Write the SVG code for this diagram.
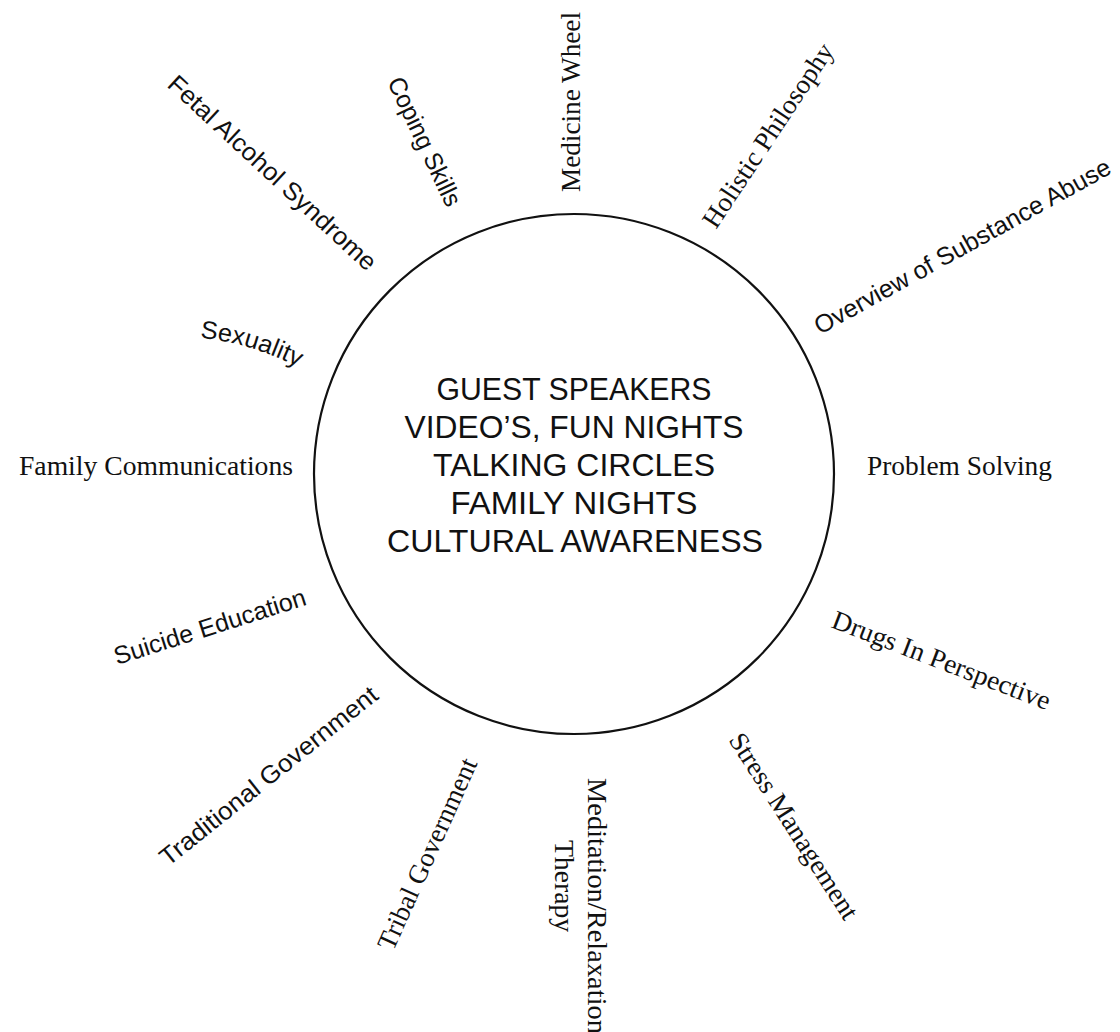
<svg xmlns="http://www.w3.org/2000/svg" width="1120" height="1032" viewBox="0 0 1120 1032">
<style>
.bg{fill:#ffffff}
.ring{fill:none;stroke:#111;stroke-width:2.2}
.serif{font-family:"Liberation Serif","Times New Roman",serif;font-size:27px;fill:#111}
.sans{font-family:"Liberation Sans",Arial,sans-serif;font-size:25px;fill:#111}
.center{font-family:"Liberation Sans",Arial,sans-serif;font-size:32px;fill:#111;text-anchor:middle}
</style>
<defs>
<path id="p-sex" d="M200,338 Q248,342 298,367"/>
</defs>
<rect class="bg" x="0" y="0" width="1120" height="1032"/>
<g id="hub">
<circle class="ring" cx="574" cy="474" r="260"/>
<text class="center" x="574" y="400" textLength="275" lengthAdjust="spacingAndGlyphs">GUEST SPEAKERS</text>
<text class="center" x="574" y="438" textLength="339" lengthAdjust="spacingAndGlyphs">VIDEO’S, FUN NIGHTS</text>
<text class="center" x="574" y="476" textLength="282" lengthAdjust="spacingAndGlyphs">TALKING CIRCLES</text>
<text class="center" x="574" y="514" textLength="247" lengthAdjust="spacingAndGlyphs">FAMILY NIGHTS</text>
<text class="center" x="575" y="552" textLength="376" lengthAdjust="spacingAndGlyphs">CULTURAL AWARENESS</text>
</g>
<g id="medicine-wheel"><text class="serif" transform="translate(580,192) rotate(-90)" textLength="180" lengthAdjust="spacingAndGlyphs">Medicine Wheel</text></g>
<g id="coping-skills"><text class="sans" transform="translate(387,82) rotate(64.7)" textLength="140" lengthAdjust="spacingAndGlyphs">Coping Skills</text></g>
<g id="fetal-alcohol"><text class="sans" transform="translate(166,86) rotate(42.8)" textLength="274" lengthAdjust="spacingAndGlyphs">Fetal Alcohol Syndrome</text></g>
<g id="holistic"><text class="serif" transform="translate(716,230) rotate(-56.5)" textLength="215" lengthAdjust="spacingAndGlyphs">Holistic Philosophy</text></g>
<g id="overview"><text class="sans" transform="translate(820,335) rotate(-29)" textLength="335" lengthAdjust="spacingAndGlyphs">Overview of Substance Abuse</text></g>
<g id="sexuality"><text class="sans" font-size="24"><textPath href="#p-sex" textLength="103" lengthAdjust="spacingAndGlyphs">Sexuality</textPath></text></g>
<g id="family-communications"><text class="serif" x="19" y="475" textLength="274" lengthAdjust="spacingAndGlyphs">Family Communications</text></g>
<g id="problem-solving"><text class="serif" x="867" y="475" textLength="185" lengthAdjust="spacingAndGlyphs">Problem Solving</text></g>
<g id="suicide-education"><text class="sans" transform="translate(117,665) rotate(-17.6)" textLength="200" lengthAdjust="spacingAndGlyphs">Suicide Education</text></g>
<g id="drugs-perspective"><text class="serif" transform="translate(830,627) rotate(21)" textLength="232" lengthAdjust="spacingAndGlyphs">Drugs In Perspective</text></g>
<g id="traditional-government"><text class="sans" transform="translate(168,867) rotate(-38.6)" textLength="271" lengthAdjust="spacingAndGlyphs">Traditional Government</text></g>
<g id="tribal-government"><text class="serif" transform="translate(393,952) rotate(-65.8)" textLength="207" lengthAdjust="spacingAndGlyphs">Tribal Government</text></g>
<g id="meditation" transform="translate(588,778) rotate(90)">
<text class="serif" x="0" y="0" textLength="256" lengthAdjust="spacingAndGlyphs">Meditation/Relaxation</text>
<text class="serif" x="62" y="33" textLength="92" lengthAdjust="spacingAndGlyphs">Therapy</text>
</g>
<g id="stress-management"><text class="serif" transform="translate(728,740) rotate(57.3)" textLength="216" lengthAdjust="spacingAndGlyphs">Stress Management</text></g>
</svg>
